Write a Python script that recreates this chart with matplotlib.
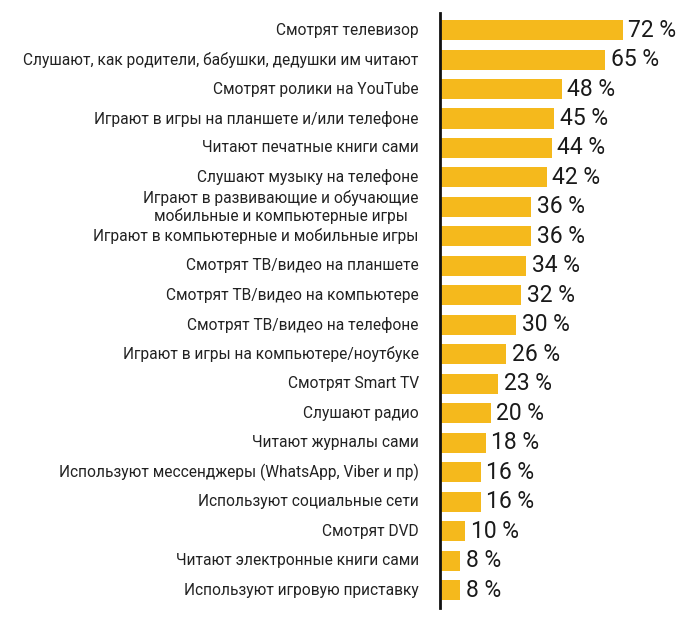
import matplotlib
matplotlib.use("Agg")
import matplotlib.pyplot as plt

labels = [
    "Смотрят телевизор",
    "Слушают, как родители, бабушки, дедушки им читают",
    "Смотрят ролики на YouTube",
    "Играют в игры на планшете и/или телефоне",
    "Читают печатные книги сами",
    "Слушают музыку на телефоне",
    "Играют в развивающие и обучающие\nмобильные и компьютерные игры",
    "Играют в компьютерные и мобильные игры",
    "Смотрят ТВ/видео на планшете",
    "Смотрят ТВ/видео на компьютере",
    "Смотрят ТВ/видео на телефоне",
    "Играют в игры на компьютере/ноутбуке",
    "Смотрят Smart TV",
    "Слушают радио",
    "Читают журналы сами",
    "Используют мессенджеры (WhatsApp, Viber и пр)",
    "Используют социальные сети",
    "Смотрят DVD",
    "Читают электронные книги сами",
    "Используют игровую приставку",
]
values = [72, 65, 48, 45, 44, 42, 36, 36, 34, 32, 30, 26, 23, 20, 18, 16, 16, 10, 8, 8]

bar_color = "#F5B91C"

fig = plt.figure(figsize=(7, 6.25), dpi=100)
ax = fig.add_axes([440 / 700, 1 - 608 / 625, 250 / 700, 595 / 625])

ypos = list(range(len(values)))
ax.barh(ypos, values, height=0.68, color=bar_color, zorder=2)

ax.set_xlim(0, 98.5)
ax.set_ylim(19.61, -0.58)

for s in ["top", "right", "bottom"]:
    ax.spines[s].set_visible(False)
ax.spines["left"].set_linewidth(2)
ax.spines["left"].set_color("#111111")
ax.set_xticks([])
ax.set_yticks([])

for y, lab, v in zip(ypos, labels, values):
    ax.text(-0.085, y, lab, transform=ax.get_yaxis_transform(), ha="right", va="center",
            multialignment="center", fontsize=11.2, family="Roboto", color="#222222",
            linespacing=1.1)
    ax.annotate(f"{v} %", (v, y), xytext=(4, 0), textcoords="offset points",
                ha="left", va="center", fontsize=16.5, family="Roboto",
                color="#1a1a1a")

fig.savefig("out.png", dpi=100)
